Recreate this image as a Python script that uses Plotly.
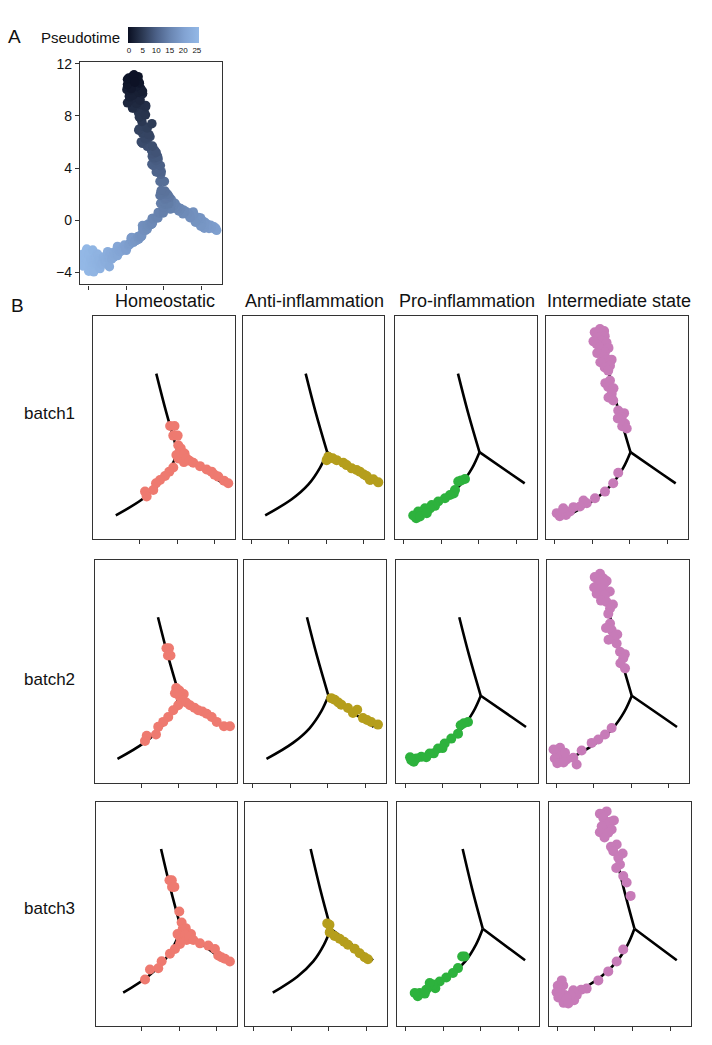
import plotly.graph_objects as go

# ---------------- data ----------------
states = ["Homeostatic", "Anti-inflammation", "Pro-inflammation", "Intermediate state"]
batches = ["batch1", "batch2", "batch3"]
state_colors = ["#EE7A70", "#B59E1C", "#2DB23D", "#C77BB8"]

# principal graph (trajectory) branches
traj_top_x = [-1.66, -0.86, 0.06]
traj_top_y = [7.73, 4.76, 1.71]
traj_right_x = [0.06, 2.5, 3.68]
traj_right_y = [1.71, 0.1, -0.68]
traj_left_x = [0.06, -0.52, -1.44, -2.78, -4.9]
traj_left_y = [1.71, 0.51, -0.76, -1.9, -3.13]

pseudotime_ticks = [0, 5, 10, 15, 20, 25]
a_y_ticks = [12, 8, 4, 0, -4]

# cells: (component 1, component 2, pseudotime)
b1_homeo = [
    (-0.55, 3.72, 10.5), (-0.2, 3.72, 10.5), (-0.3, 2.98, 12.0), (0.05, 2.98, 12.0),
    (0.1, 2.24, 12.5), (0.3, 2.0, 13.0), (0.24, 1.74, 13.5), (0.1, 1.23, 14.0), (0.4, 1.5, 14.3),
    (-0.05, 1.5, 14.0), (0.6, 1.6, 14.6), (0.55, 0.95, 15.0),
    (0.77, 1.23, 15.0), (1.0, 1.05, 15.4), (1.3, 0.9, 15.8), (1.84, 0.64, 16.8),
    (2.37, 0.39, 17.4), (2.77, 0.22, 17.8), (3.0, -0.02, 18.2), (3.3, -0.16, 18.6),
    (3.76, -0.47, 19.3), (4.1, -0.67, 19.8),
    (-0.3, 0.54, 14.8), (-0.62, 0.22, 15.2), (-0.96, -0.12, 16.0), (-1.36, -0.42, 16.7),
    (-1.68, -0.67, 17.3), (-1.9, -1.19, 17.8), (-2.56, -1.31, 19.0), (-2.43, -1.69, 18.9),
]
b1_anti = [
    (0.02, 1.1, 14.8), (0.15, 1.36, 14.5), (0.5, 1.25, 15.0), (0.82, 1.1, 15.4), (1.35, 0.9, 16.0),
    (1.62, 0.72, 16.5), (2.02, 0.47, 17.0), (2.42, 0.34, 17.5), (2.68, 0.22, 17.8),
    (3.0, 0.0, 18.2), (3.22, -0.12, 18.6), (3.48, -0.42, 19.0), (3.75, -0.37, 19.3), (4.15, -0.6, 19.9),
]
b1_pro = [
    (-1.1, -0.35, 16.3), (-1.4, -0.45, 16.8), (-1.64, -0.54, 17.1), (-1.9, -1.19, 17.8),
    (-2.0, -1.45, 18.2), (-2.3, -1.57, 18.6), (-2.7, -1.82, 19.4), (-3.24, -2.07, 20.5),
    (-3.5, -2.4, 21.0), (-3.76, -2.33, 21.5), (-3.9, -2.6, 21.8), (-4.3, -2.58, 22.6),
    (-4.4, -2.9, 22.8), (-4.84, -2.83, 23.7), (-5.0, -3.35, 24.0),
    (-5.24, -3.14, 24.5), (-4.7, -3.21, 23.4), (-4.16, -2.96, 22.3),
]
b1_inter = [
    (-2.38, 11.14, 0.0), (-2.8, 10.9, 0.3), (-2.05, 11.0, 0.2), (-2.0, 10.6, 0.6), (-2.64, 10.5, 0.8),
    (-2.24, 10.25, 1.2), (-2.9, 10.2, 1.2), (-1.85, 10.1, 1.5), (-2.64, 9.99, 1.6),
    (-2.38, 9.74, 2.0), (-1.7, 9.7, 2.3), (-1.98, 9.36, 2.8), (-2.6, 9.3, 2.6), (-2.1, 9.0, 3.3),
    (-1.84, 8.85, 3.6), (-1.45, 8.8, 3.7), (-2.35, 8.6, 3.9), (-1.58, 8.34, 4.4), (-2.0, 8.2, 4.6),
    (-1.72, 7.96, 5.0), (-1.58, 7.2, 6.0), (-1.95, 7.0, 6.2), (-1.72, 6.7, 6.5), (-1.3, 6.6, 6.7),
    (-1.44, 6.18, 7.2), (-1.7, 5.9, 7.5), (-1.32, 5.67, 7.8),
    (-0.92, 4.91, 9.0), (-0.45, 4.7, 9.4), (-0.64, 4.41, 9.8), (-0.95, 4.3, 9.9), (-0.38, 3.9, 10.4),
    (-0.6, 3.7, 10.7), (-0.24, 3.52, 11.0),
    (-0.92, 0.14, 15.5), (-1.32, -0.67, 16.8), (-1.98, -1.31, 18.0), (-2.78, -1.82, 19.6),
    (-3.44, -2.2, 21.0), (-3.7, -2.0, 21.4), (-3.98, -2.45, 22.0), (-4.5, -2.5, 23.0),
    (-4.78, -2.83, 23.6), (-5.1, -3.1, 24.2), (-5.44, -2.96, 24.8), (-5.6, -3.2, 25.0),
    (-5.84, -2.96, 25.3), (-5.32, -2.58, 24.6),
]
b2_homeo = [
    (-0.98, 5.35, 8.5), (-0.78, 5.35, 8.5), (-0.86, 4.79, 9.0), (-0.66, 4.79, 9.0),
    (-0.2, 2.3, 12.5), (0.05, 2.12, 12.7), (-0.3, 1.9, 12.9), (0.4, 1.85, 13.4),
    (0.1, 1.61, 13.6), (0.35, 1.35, 14.2), (-0.04, 0.98, 14.3),
    (0.6, 1.2, 14.8), (0.9, 0.98, 15.4), (1.25, 0.8, 15.8), (1.56, 0.6, 16.3), (1.9, 0.5, 16.8),
    (2.24, 0.34, 17.3), (2.64, 0.09, 17.8), (3.04, -0.29, 18.3), (3.62, -0.62, 19.2), (4.1, -0.62, 19.8),
    (-0.44, 0.6, 14.9), (-0.84, 0.09, 15.8), (-1.24, -0.29, 16.5), (-1.64, -0.67, 17.2),
    (-1.82, -1.26, 17.7), (-2.56, -1.36, 19.0), (-2.7, -1.76, 19.4),
]
b2_anti = [
    (0.28, 1.53, 14.2), (0.56, 1.41, 14.7), (0.85, 1.2, 15.2), (1.08, 1.03, 15.6), (1.62, 0.77, 16.3),
    (2.36, 0.64, 17.3), (2.02, 0.39, 17.0), (2.82, 0.0, 18.0), (3.15, -0.15, 18.5), (3.48, -0.3, 19.0),
    (4.02, -0.5, 19.7),
]
b2_pro = [
    (-0.96, -0.3, 16.0), (-1.3, -0.4, 16.5), (-1.55, -0.55, 17.0), (-1.76, -1.19, 17.5),
    (-2.3, -1.57, 18.6), (-2.83, -1.95, 19.7), (-3.0, -2.3, 20.2), (-3.36, -2.33, 20.8),
    (-3.7, -2.7, 21.5), (-4.03, -2.71, 22.1), (-4.3, -3.0, 22.7),
    (-4.7, -2.97, 23.4), (-5.1, -3.09, 24.2), (-5.3, -3.35, 24.6), (-5.5, -3.22, 25.0), (-5.6, -3.0, 25.0),
]
b2_inter = [
    (-2.48, 11.05, 0.1), (-2.9, 10.8, 0.4), (-2.2, 10.7, 0.6), (-1.95, 10.5, 0.8), (-2.62, 10.42, 1.0),
    (-2.15, 10.3, 1.3), (-2.95, 10.0, 1.6), (-2.35, 9.91, 1.8), (-1.7, 9.7, 2.3),
    (-2.75, 9.53, 2.3), (-2.08, 9.41, 2.7), (-2.4, 9.0, 3.3), (-1.95, 8.9, 3.5), (-1.45, 8.7, 3.9),
    (-1.68, 8.39, 4.3), (-1.82, 8.0, 5.0),
    (-1.68, 7.24, 6.0), (-2.0, 6.9, 6.3), (-1.55, 6.74, 6.5), (-1.1, 6.4, 6.9), (-1.42, 6.23, 7.1),
    (-1.8, 6.0, 7.3), (-1.15, 5.72, 7.8), (-0.88, 5.09, 8.6), (-0.5, 4.9, 9.0), (-0.62, 4.58, 9.4),
    (-0.85, 4.2, 9.9), (-0.48, 3.81, 10.5),
    (-1.55, -0.76, 17.0), (-2.08, -1.26, 18.2), (-2.62, -1.64, 19.3), (-3.15, -1.9, 20.4),
    (-3.95, -2.48, 22.0), (-4.62, -3.04, 23.3), (-4.35, -3.55, 22.8), (-5.68, -2.28, 25.0),
    (-5.95, -2.66, 25.5), (-5.55, -2.91, 24.9), (-5.68, -3.3, 25.1), (-5.15, -3.17, 24.3),
    (-5.28, -2.66, 24.5), (-6.1, -3.1, 25.7), (-5.9, -3.45, 25.5), (-6.2, -2.4, 25.7), (-5.4, -3.4, 24.8),
]
b3_homeo = [
    (-0.94, 5.37, 8.5), (-0.74, 5.37, 8.5), (-0.72, 4.87, 9.0), (-0.52, 4.87, 9.0),
    (-0.1, 3.01, 12.0), (0.1, 2.18, 12.8), (0.19, 1.69, 13.5), (0.45, 1.75, 13.6), (0.3, 1.45, 14.0),
    (0.0, 1.0, 14.3), (-0.25, 1.3, 14.2), (0.9, 1.3, 15.0),
    (0.39, 1.26, 14.0), (0.53, 0.86, 14.7), (0.75, 1.1, 15.0), (1.1, 0.86, 15.5), (1.67, 0.6, 16.3),
    (2.38, 0.43, 17.3), (2.95, 0.18, 18.0), (3.23, -0.32, 18.5), (3.5, -0.45, 19.0), (3.8, -0.57, 19.3),
    (4.23, -0.77, 20.0),
    (-0.04, 0.56, 14.5), (-0.47, 0.18, 15.2), (-0.9, -0.19, 15.9), (-1.61, -0.75, 17.2),
    (-1.9, -1.28, 17.8), (-2.61, -1.37, 19.1), (-3.03, -2.13, 20.1),
]
b3_anti = [
    (-0.24, 2.11, 12.7), (-0.05, 2.0, 12.9), (-0.03, 1.43, 14.0), (0.39, 1.16, 14.7), (0.82, 0.95, 15.3),
    (1.2, 0.72, 15.8), (1.53, 0.5, 16.2), (2.1, 0.2, 17.0), (2.53, -0.15, 17.6), (2.96, -0.45, 18.2),
    (3.24, -0.6, 18.6),
]
b3_pro = [
    (-1.49, -0.4, 17.0), (-1.7, -0.4, 17.3), (-2.06, -1.27, 18.2), (-2.49, -1.64, 19.0),
    (-3.06, -1.98, 20.2), (-3.62, -2.28, 21.3), (-4.0, -2.8, 22.0), (-4.2, -2.52, 22.4), (-4.48, -2.4, 23.0),
    (-4.77, -2.9, 23.6), (-4.9, -3.2, 23.9), (-5.33, -3.15, 24.7), (-5.5, -3.4, 25.0), (-5.76, -3.15, 25.3),
]
b3_inter = [
    (-2.32, 10.58, 0.0), (-2.9, 10.4, 0.5), (-2.61, 10.09, 0.8), (-1.7, 9.9, 1.5), (-2.0, 9.8, 1.6),
    (-2.46, 9.58, 1.8), (-2.74, 9.46, 2.0), (-1.89, 9.21, 2.6), (-2.9, 9.0, 2.6), (-2.18, 8.96, 2.9),
    (-2.5, 8.6, 3.3), (-1.46, 8.08, 4.2), (-1.95, 7.9, 4.4), (-1.75, 7.57, 4.9), (-0.95, 7.4, 5.3),
    (-1.32, 7.07, 5.7), (-1.18, 6.57, 6.4), (-1.5, 6.3, 6.8), (-0.9, 5.69, 7.6), (-0.61, 5.2, 8.3),
    (-0.27, 4.19, 9.9),
    (-0.9, 0.13, 15.7), (-1.46, -0.77, 17.2), (-2.18, -1.52, 18.5), (-3.03, -2.2, 20.1),
    (-4.03, -2.82, 22.0), (-4.5, -2.9, 23.0), (-4.88, -3.33, 23.8), (-5.17, -2.95, 24.3),
    (-5.1, -3.7, 24.4), (-5.4, -3.3, 24.8), (-5.9, -3.3, 25.5), (-6.03, -2.58, 25.6), (-6.16, -2.2, 25.8),
    (-6.31, -3.07, 26.0), (-6.5, -2.6, 26.0), (-6.6, -3.1, 26.0), (-6.45, -3.5, 26.0), (-6.0, -3.9, 25.6),
    (-5.74, -3.58, 25.3), (-5.6, -3.95, 25.1),
]

facets = [
    [b1_homeo, b1_anti, b1_pro, b1_inter],
    [b2_homeo, b2_anti, b2_pro, b2_inter],
    [b3_homeo, b3_anti, b3_pro, b3_inter],
]

# ---------------- layout helpers ----------------
W, H = 712, 1045
FONT = "Liberation Sans, Arial, Helvetica, sans-serif"
TXT = "#111111"


def xd(l, w):
    return [l / W, (l + w) / W]


def yd(t, h):
    return [1 - (t + h) / H, 1 - t / H]


frame = dict(showline=True, linecolor="#333333", linewidth=1.3, mirror=True,
             showgrid=False, zeroline=False, fixedrange=True)

colorscale = [[0.0, "#0a0f22"], [0.2, "#2b3852"], [0.4, "#4c6188"],
              [0.6, "#6a86b2"], [0.8, "#82a3d3"], [1.0, "#93b8e6"]]

segments = [(traj_top_x, traj_top_y), (traj_right_x, traj_right_y), (traj_left_x, traj_left_y)]

fig = go.Figure()

# ---------------- panel A ----------------
for sx, sy in segments:
    fig.add_trace(go.Scatter(x=sx, y=sy, mode="lines", line=dict(color="black", width=1.5, shape="spline"),
                             xaxis="x", yaxis="y", hoverinfo="skip"))

all_cells = [c for row in facets for f in row for c in f]
all_cells.sort(key=lambda c: -c[2])
fig.add_trace(go.Scatter(
    x=[c[0] for c in all_cells], y=[c[1] for c in all_cells], mode="markers",
    xaxis="x", yaxis="y",
    marker=dict(size=9.5, color=[c[2] for c in all_cells], colorscale=colorscale, cmin=-0.4, cmax=25.8,
                showscale=True,
                colorbar=dict(orientation="h", x=163.5 / W, xanchor="center", y=1 - 21 / H, yanchor="top",
                              len=71, lenmode="pixels", thickness=16, thicknessmode="pixels",
                              xpad=0, ypad=0, outlinewidth=0, tickvals=pseudotime_ticks, ticks="",
                              tickfont=dict(size=8, color=TXT, family=FONT)))))

layout = dict(
    width=W, height=H, margin=dict(l=0, r=0, t=0, b=0), showlegend=False,
    paper_bgcolor="white", plot_bgcolor="white",
    xaxis=dict(domain=xd(80, 142), range=[-6.7, 4.66], tickvals=[-6, -3, 0, 3], ticks="outside",
               ticklen=4, tickcolor="#333333", showticklabels=False, **frame),
    yaxis=dict(domain=yd(56, 224), range=[-4.91, 12.15], tickvals=a_y_ticks, ticks="outside",
               ticklen=4, tickcolor="#333333", tickfont=dict(size=14, color=TXT, family=FONT), **frame),
)

# ---------------- panel B ----------------
row_tops = [311.7, 556.7, 801.0]
row_lefts = [[93.3, 242.7, 395.0, 546.0], [95.0, 244.0, 396.3, 547.3], [95.7, 245.3, 397.3, 549.0]]
PW, PH = 141.7, 224.5
row_xrange = [[-6.7, 4.64], [-6.7, 4.64], [-7.25, 4.87]]
row_yrange = [[-4.95, 12.15], [-4.95, 12.15], [-5.62, 11.26]]
row_xticks = [[-6, -3, 0, 3], [-6, -3, 0, 3], [-6.51, -3.32, -0.12, 3.1]]

for r in range(3):
    for c in range(4):
        k = 2 + r * 4 + c
        xa, ya = f"x{k}", f"y{k}"
        ticks = row_xticks[r] if c > 0 else row_xticks[r][1:]
        layout[f"xaxis{k}"] = dict(domain=xd(row_lefts[r][c], PW), range=row_xrange[r], tickvals=ticks,
                                   ticks="outside", ticklen=4, tickcolor="#333333", showticklabels=False,
                                   anchor=ya, **frame)
        layout[f"yaxis{k}"] = dict(domain=yd(row_tops[r], PH), range=row_yrange[r], ticks="",
                                   showticklabels=False, anchor=xa, **frame)
        for sx, sy in segments:
            fig.add_trace(go.Scatter(x=sx, y=sy, mode="lines", line=dict(color="black", width=2.6, shape="spline"),
                                     xaxis=xa, yaxis=ya, hoverinfo="skip"))
        cells = facets[r][c]
        fig.add_trace(go.Scatter(x=[p[0] for p in cells], y=[p[1] for p in cells], mode="markers",
                                 marker=dict(size=10, color=state_colors[c]), xaxis=xa, yaxis=ya))

ann = []
col_centers = [165, 314, 467, 619]
for c, s in enumerate(states):
    ann.append(dict(text=s, x=col_centers[c] / W, y=1 - 297 / H, xref="paper", yref="paper",
                    xanchor="center", yanchor="middle", showarrow=False,
                    font=dict(size=18, color=TXT, family=FONT)))
row_label_y = [410, 677, 908]
for r, b in enumerate(batches):
    ann.append(dict(text=b, x=49 / W, y=1 - row_label_y[r] / H, xref="paper", yref="paper",
                    xanchor="center", yanchor="middle", showarrow=False,
                    font=dict(size=17, color=TXT, family=FONT)))
ann.append(dict(text="A", x=14 / W, y=1 - 31 / H, xref="paper", yref="paper", xanchor="center",
                yanchor="middle", showarrow=False, font=dict(size=19, color=TXT, family=FONT)))
ann.append(dict(text="B", x=17 / W, y=1 - 301 / H, xref="paper", yref="paper", xanchor="center",
                yanchor="middle", showarrow=False, font=dict(size=19, color=TXT, family=FONT)))
ann.append(dict(text="Pseudotime", x=80 / W, y=1 - 32 / H, xref="paper", yref="paper", xanchor="center",
                yanchor="middle", showarrow=False, font=dict(size=15, color=TXT, family=FONT)))
layout["annotations"] = ann

fig.update_layout(**layout)
fig.write_html("out.html")
